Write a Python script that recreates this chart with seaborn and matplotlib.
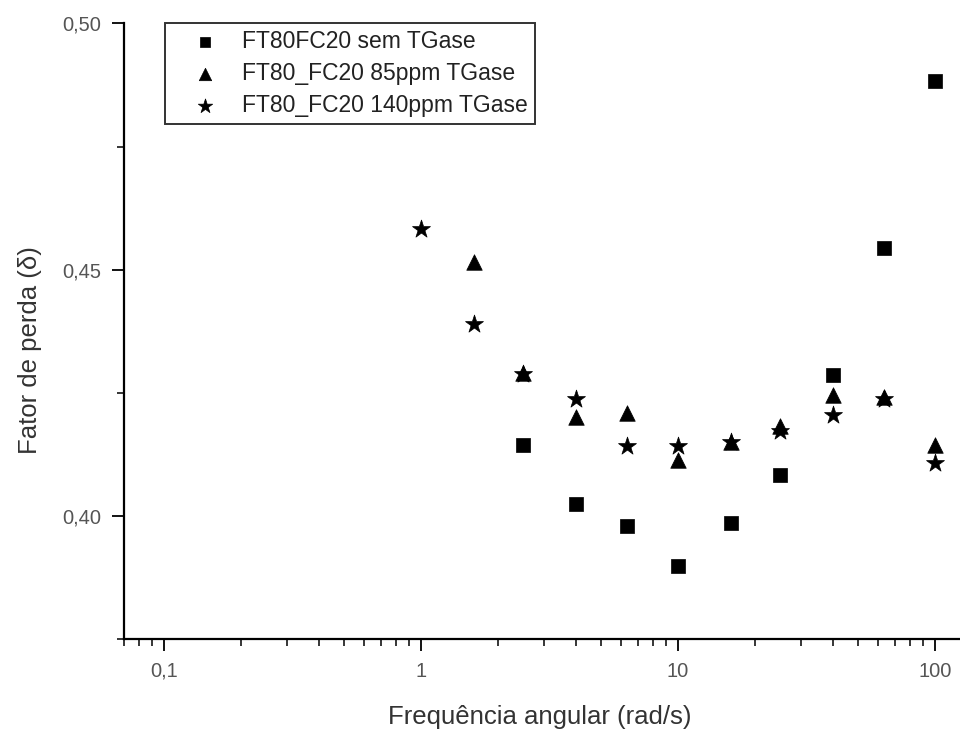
import numpy as np
import pandas as pd
import matplotlib
matplotlib.use("Agg")
import matplotlib.pyplot as plt
import seaborn as sns
from matplotlib.ticker import FixedLocator, FuncFormatter, LogLocator, NullFormatter

# Angular frequency (rad/s) and loss factor for each formulation
freq_sem = [2.5, 4.0, 6.3, 10.0, 16.0, 25.0, 40.0, 63.0, 100.0]
tan_sem = [0.4143, 0.4024, 0.3979, 0.3898, 0.3985, 0.4082, 0.4286, 0.4543, 0.4884]

freq_85 = [1.6, 2.5, 4.0, 6.3, 10.0, 16.0, 25.0, 40.0, 63.0, 100.0]
tan_85 = [0.4516, 0.4291, 0.4200, 0.4208, 0.4113, 0.4151, 0.4182, 0.4245, 0.4241, 0.4143]

freq_140 = [1.0, 1.6, 2.5, 4.0, 6.3, 10.0, 16.0, 25.0, 40.0, 63.0, 100.0]
tan_140 = [0.4583, 0.4390, 0.4289, 0.4238, 0.4141, 0.4141, 0.4149, 0.4172, 0.4204, 0.4238, 0.4107]

series_labels = ["FT80FC20 sem TGase", "FT80_FC20 85ppm TGase", "FT80_FC20 140ppm TGase"]
x_tick_values = [0.1, 1, 10, 100]
x_tick_labels = ["0,1", "1", "10", "100"]
y_tick_values = [0.40, 0.45, 0.50]
y_tick_labels = ["0,40", "0,45", "0,50"]

sns.set_theme(style="white")
plt.rcParams["font.family"] = ["Liberation Sans", "DejaVu Sans"]

fig = plt.figure(figsize=(9.6, 7.3), dpi=100)
ax = fig.add_axes([0.1294, 0.1247, 0.8706, 0.8432])

series = [
    (freq_sem, tan_sem, "s", 95),
    (freq_85, tan_85, "^", 125),
    (freq_140, tan_140, "*", 185),
]
for (fx, fy, mk, sz), lab in zip(series, series_labels):
    df = pd.DataFrame({"freq": fx, "tan": fy})
    sns.scatterplot(data=df, x="freq", y="tan", marker=mk, s=sz, color="black",
                    edgecolor="black", linewidth=0.5, ax=ax, label=lab, clip_on=False)

ax.set_xscale("log")
ax.set_xlim(0.07, 125)
ax.set_ylim(0.375, 0.50)

ax.xaxis.set_major_locator(FixedLocator(x_tick_values))
ax.xaxis.set_major_formatter(FuncFormatter(
    lambda v, p: x_tick_labels[x_tick_values.index(v)] if v in x_tick_values else ""))
ax.xaxis.set_minor_locator(LogLocator(base=10, subs=np.arange(2, 10)))
ax.xaxis.set_minor_formatter(NullFormatter())

ax.yaxis.set_major_locator(FixedLocator(y_tick_values))
ax.set_yticklabels(y_tick_labels)
ax.yaxis.set_minor_locator(FixedLocator([0.375, 0.425, 0.475]))

for side in ["top", "right"]:
    ax.spines[side].set_visible(False)
for side in ["left", "bottom"]:
    ax.spines[side].set_color("black")
    ax.spines[side].set_linewidth(1.6)

ax.tick_params(axis="both", which="major", direction="out", length=8.5, width=1.3,
               color="black", labelsize=14.5, labelcolor="#555555", pad=8,
               bottom=True, left=True)
ax.tick_params(axis="both", which="minor", direction="out", length=5, width=1.1,
               color="black", bottom=True, left=True)

ax.set_xlabel("Frequência angular (rad/s)", fontsize=18.5, color="#333333")
ax.set_ylabel("Fator de perda (δ)", fontsize=18.5, color="#333333")
ax.xaxis.set_label_coords(0.4975, -0.108)
ax.yaxis.set_label_coords(-0.098, 0.4695)

leg = ax.legend(loc="upper left", bbox_to_anchor=(0.049, 1.0), borderaxespad=0,
                frameon=True, fancybox=False, fontsize=16.5, handletextpad=0.15,
                borderpad=0.3, labelspacing=0.38, handlelength=2.9, markerscale=0.8)
leg.get_frame().set_edgecolor("black")
leg.get_frame().set_linewidth(1.4)
for t in leg.get_texts():
    t.set_color("#222222")

fig.savefig("out.png", dpi=100)
